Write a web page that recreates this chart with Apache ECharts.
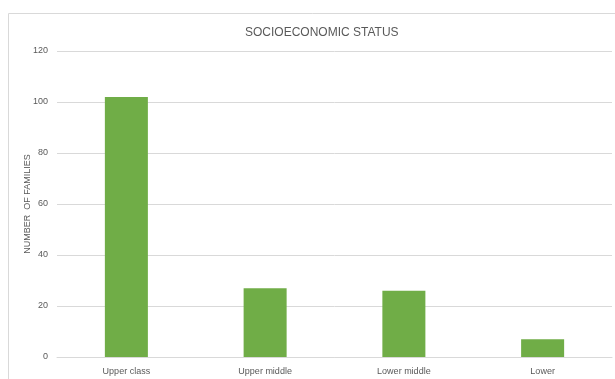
<!DOCTYPE html>
<html><head><meta charset="utf-8">
<script src="https://cdn.jsdelivr.net/npm/echarts@6/dist/echarts.min.js"></script>
<style>html,body{margin:0;padding:0;background:#fff}#c{width:615px;height:379px}</style>
</head><body><div id="c"></div>
<script>
const categories = ["Upper class", "Upper middle", "Lower middle", "Lower"];
const families = [102, 27, 26, 7];
const yTicks = [0, 20, 40, 60, 80, 100, 120];

const chart = echarts.init(document.getElementById('c'), null, {renderer: 'canvas'});
const font = '"Liberation Sans Narrow", "Liberation Sans", sans-serif';
chart.setOption({
  animation: false,
  graphic: [{type: 'rect', shape: {x: 8.5, y: 13.5, width: 620, height: 380}, style: {fill: 'none', stroke: '#d9d9d9', lineWidth: 1}, silent: true}],
  title: {text: 'SOCIOECONOMIC STATUS', left: 240, top: 22,
    textStyle: {fontFamily: font, fontSize: 12, fontWeight: 'normal', color: '#595959'}},
  grid: {left: 57, right: 3, top: 51, bottom: 22},
  xAxis: {type: 'category', data: categories,
    axisLine: {lineStyle: {color: '#d9d9d9'}}, axisTick: {show: false},
    axisLabel: {fontFamily: font, fontSize: 9, color: '#595959', margin: 10}},
  yAxis: {type: 'value', min: yTicks[0], max: yTicks[yTicks.length-1], interval: 20,
    name: 'NUMBER  OF FAMILIES', nameLocation: 'middle', nameGap: 25, nameRotate: 90,
    nameMoveOverlap: false,
    nameTextStyle: {fontFamily: font, fontSize: 9, color: '#595959'},
    axisLine: {show: false}, axisTick: {show: false},
    splitLine: {lineStyle: {color: '#d9d9d9'}},
    axisLabel: {fontFamily: font, fontSize: 9, color: '#595959', margin: 9}},
  series: [{type: 'bar', data: families, barWidth: '31%', itemStyle: {color: '#70ad47'}}]
});
</script></body></html>
